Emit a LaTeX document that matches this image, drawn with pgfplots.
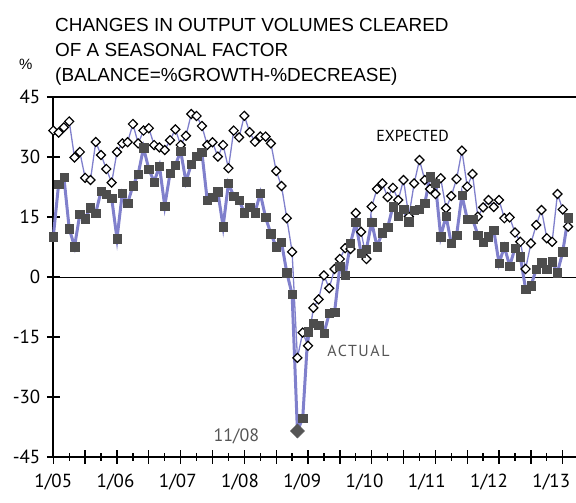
\documentclass[border=0pt]{standalone}
\usepackage{fontspec}
\setmainfont{PT Sans}
\newfontfamily\arial{Liberation Sans}
\usepackage{pgfplots}
\pgfplotsset{compat=1.18}
\definecolor{lin}{RGB}{128,128,204}
\definecolor{dg}{RGB}{77,77,77}
\definecolor{lab}{RGB}{85,85,85}
\begin{document}
\begin{tikzpicture}
\useasboundingbox (0,0) rectangle (576bp,503bp);
\node[anchor=base west, inner sep=0pt, font=\arial\fontsize{19}{22}\selectfont] at (55bp,471bp) {CHANGES IN OUTPUT VOLUMES CLEARED};
\node[anchor=base west, inner sep=0pt, font=\arial\fontsize{19}{22}\selectfont] at (55bp,446bp) {OF A SEASONAL FACTOR};
\node[anchor=base west, inner sep=0pt, font=\arial\fontsize{19}{22}\selectfont] at (55bp,421bp) {(BALANCE=\%GROWTH-\%DECREASE)};
\node[anchor=base west, inner sep=0pt, font=\arial\fontsize{15}{18}\selectfont] at (19bp,433bp) {\%};
\begin{axis}[
  at={(53.3bp,46bp)}, anchor=south west,
  scale only axis, width=522.7bp, height=360bp,
  xmin=0, xmax=98.5, ymin=-45, ymax=45,
  axis x line=bottom, axis y line=left,
  axis line style={-, line width=1.8bp, black},
  xtick={0,6,...,96}, minor xtick={3,9,...,93},
  xticklabels={},
  extra x ticks={0,11.73,23.46,35.19,46.92,58.65,70.38,82.11,93.84},
  extra x tick labels={1/05,1/06,1/07,1/08,1/09,1/10,1/11,1/12,1/13},
  extra x tick style={major tick length=0pt, xticklabel style={yshift=-14bp}},
  ytick={-45,-30,...,45}, yticklabels={-45,-30,-15,0,15,30,45},
  tick align=center,
  major tick length=13bp, minor tick length=7bp,
  tick style={line width=1.3bp, black},
  tick label style={font=\fontsize{19}{22}\selectfont},
  yticklabel style={xshift=-3bp},
  clip=false,
]
\draw[line width=1.7bp] (rel axis cs:0,1) -- (rel axis cs:1,1);
\draw[line width=1bp] (axis cs:0,0) -- (axis cs:98.5,0);

% actual
\addplot[lin, line width=3bp, no marks] coordinates {
(0,10.1)(1,23.2)(2,24.9)(3,12.1)(4,7.6)(5,15.7)(6,14.6)(7,17.3)(8,16.0)(9,21.5)
(10,20.75)(11,19.7)(12,9.6)(13,20.9)(14,18.4)(15,22.8)(16,25.75)(17,32.3)(18,27.0)(19,23.75)
(20,27.75)(21,17.75)(22,25.9)(23,27.9)(24,31.5)(25,23.8)(26,28.25)(27,30.25)(28,31.2)(29,19.25)
(30,19.9)(31,21.3)(32,12.6)(33,23.4)(34,20.25)(35,19.25)(36,16.1)(37,17.4)(38,16.1)(39,20.9)
(40,14.9)(41,10.8)(42,7.6)(43,8.7)(44,1.1)(45,-4.3)(46,-38.5)(47,-35.3)(48,-13.7)(49,-11.6)
(50,-12.0)(51,-14.1)(52,-9.1)(53,-8.8)(54,2.7)(55,0.4)(56,8.4)(57,13.7)(58,5.9)(59,7.0)
(60,13.7)(61,7.6)(62,11.1)(63,12.4)(64,17.6)(65,15.25)(66,16.9)(67,13.8)(68,16.75)(69,16.9)
(70,18.4)(71,25.1)(72,23.5)(73,10.1)(74,15.25)(75,8.4)(76,10.5)(77,20.5)(78,14.5)(79,14.5)
(80,10.5)(81,8.7)(82,10.1)(83,11.75)(84,3.4)(85,7.6)(86,2.75)(87,7.2)(88,5.1)(89,-3.0)
(90,-2.2)(91,1.9)(92,3.6)(93,1.9)(94,3.8)(95,1.1)(96,6.3)(97,14.8)
};
% expected
\addplot[lin, line width=1.3bp, mark=square*, mark size=3.2bp, mark options={draw=black, fill=white, line width=1.2bp, rotate=45}] coordinates {
(0,36.6)(1,36.1)(2,37.4)(3,38.9)(4,29.9)(5,31.25)(6,24.8)(7,24.25)(8,33.75)(9,30.5)
(10,27)(11,23.6)(12,31.25)(13,33.4)(14,33.7)(15,38.25)(16,33.4)(17,36.6)(18,37.2)(19,33.0)
(20,32.4)(21,31.75)(22,34.2)(23,36.9)(24,33)(25,35.3)(26,40.75)(27,40.25)(28,37.75)(29,33.0)
(30,33.7)(31,30.1)(32,33.0)(33,27.2)(34,36.6)(35,34.9)(36,40.3)(37,36.2)(38,33.8)(39,35.1)
(40,35.1)(41,33.4)(42,26.5)(43,22.75)(44,14.7)(45,6.3)(46,-20.2)(47,-13.9)(48,-17.2)(49,-7.7)
(50,-5.6)(51,0.4)(52,-2.8)(53,2.0)(54,4.5)(55,7.2)(56,7.0)(57,16.0)(58,11.3)(59,4.5)
(60,17.6)(61,22)(62,23.4)(63,20)(64,22.3)(65,19.25)(66,24.25)(67,15.1)(68,23.4)(69,29.25)
(70,24.25)(71,22)(72,20.75)(73,24.7)(74,17.2)(75,20.25)(76,24.5)(77,31.6)(78,22.6)(79,25.75)
(80,15.1)(81,17.4)(82,19.25)(83,17.5)(84,19.25)(85,14.7)(86,14.9)(87,11.1)(88,8.8)(89,2.0)
(90,8.4)(91,13.0)(92,16.75)(93,9.7)(94,8.8)(95,20.75)(96,16.9)(97,12.6)
};
% actual markers
\addplot[only marks, mark=square*, mark size=4.2bp, mark options={dg, fill=dg}] coordinates {
(0,10.1)(1,23.2)(2,24.9)(3,12.1)(4,7.6)(5,15.7)(6,14.6)(7,17.3)(8,16.0)(9,21.5)
(10,20.75)(11,19.7)(12,9.6)(13,20.9)(14,18.4)(15,22.8)(16,25.75)(17,32.3)(18,27.0)(19,23.75)
(20,27.75)(21,17.75)(22,25.9)(23,27.9)(24,31.5)(25,23.8)(26,28.25)(27,30.25)(28,31.2)(29,19.25)
(30,19.9)(31,21.3)(32,12.6)(33,23.4)(34,20.25)(35,19.25)(36,16.1)(37,17.4)(38,16.1)(39,20.9)
(40,14.9)(41,10.8)(42,7.6)(43,8.7)(44,1.1)(45,-4.3)(47,-35.3)(48,-13.7)(49,-11.6)
(50,-12.0)(51,-14.1)(52,-9.1)(53,-8.8)(54,2.7)(55,0.4)(56,8.4)(57,13.7)(58,5.9)(59,7.0)
(60,13.7)(61,7.6)(62,11.1)(63,12.4)(64,17.6)(65,15.25)(66,16.9)(67,13.8)(68,16.75)(69,16.9)
(70,18.4)(71,25.1)(72,23.5)(73,10.1)(74,15.25)(75,8.4)(76,10.5)(77,20.5)(78,14.5)(79,14.5)
(80,10.5)(81,8.7)(82,10.1)(83,11.75)(84,3.4)(85,7.6)(86,2.75)(87,7.2)(88,5.1)(89,-3.0)
(90,-2.2)(91,1.9)(92,3.6)(93,1.9)(94,3.8)(95,1.1)(96,6.3)(97,14.8)
};
% highlighted minimum
\addplot[only marks, mark=square*, mark size=5bp, mark options={lab, fill=lab, rotate=45}] coordinates {(46,-38.5)};
\node[font=\fontsize{18}{21}\selectfont, text=lab] at (axis cs:34.5,-39.8) {11/08};
\node[font=\fontsize{16}{19}\selectfont\addfontfeature{LetterSpace=10}, text=lab] at (axis cs:57.5,-18.5) {ACTUAL};
\node[font=\fontsize{16}{19}\selectfont, text=black] at (axis cs:67.7,35.3) {EXPECTED};
\end{axis}
\end{tikzpicture}
\end{document}
